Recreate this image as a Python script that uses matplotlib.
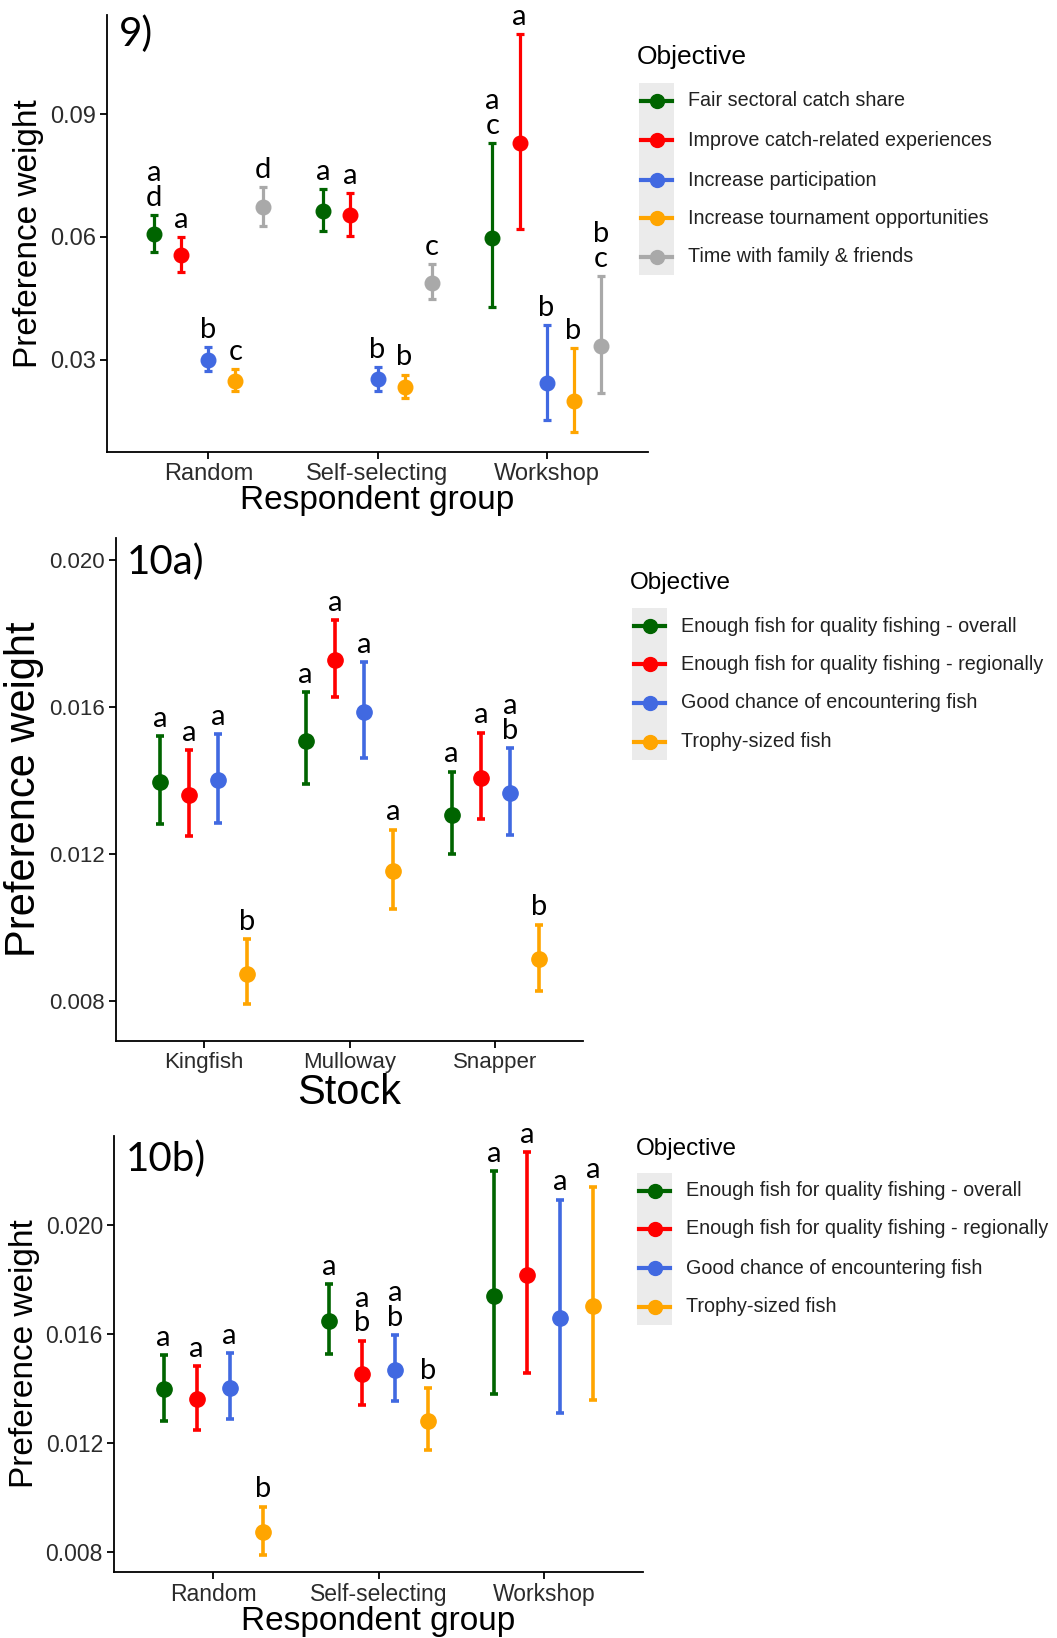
import numpy as np
import matplotlib
matplotlib.use("Agg")
import matplotlib.pyplot as plt
from matplotlib.patches import Rectangle
from matplotlib.lines import Line2D

# -----------------------------------
# DATA
# -----------------------------------

colors4 = ["#006400", "#FF0000", "#4169E1", "#FFA500"]
colors5 = colors4 + ["#A9A9A9"]

# Figure 9 : preference weight by respondent group
groups9 = ["Random", "Self-selecting", "Workshop"]
objectives9 = [
    "Fair sectoral catch share",
    "Improve catch-related experiences",
    "Increase participation",
    "Increase tournament opportunities",
    "Time with family & friends",
]
mean9 = [
    [0.0607, 0.0664, 0.0598],
    [0.0555, 0.0652, 0.0828],
    [0.0300, 0.0252, 0.0242],
    [0.0248, 0.0233, 0.0199],
    [0.0673, 0.0488, 0.0332],
]
low9 = [
    [0.0563, 0.0615, 0.0429],
    [0.0514, 0.0603, 0.0620],
    [0.0272, 0.0224, 0.0153],
    [0.0222, 0.0206, 0.0122],
    [0.0626, 0.0447, 0.0218],
]
high9 = [
    [0.0654, 0.0717, 0.0828],
    [0.0600, 0.0707, 0.1095],
    [0.0331, 0.0282, 0.0385],
    [0.0276, 0.0263, 0.0327],
    [0.0721, 0.0533, 0.0504],
]
letters9 = [
    ["a\nd", "a", "a\nc"],
    ["a", "a", "a"],
    ["b", "b", "b"],
    ["c", "b", "b"],
    ["d", "c", "b\nc"],
]

# Figure 10a : preference weight by stock
stocks10a = ["Kingfish", "Mulloway", "Snapper"]
objectives10 = [
    "Enough fish for quality fishing - overall",
    "Enough fish for quality fishing - regionally",
    "Good chance of encountering fish",
    "Trophy-sized fish",
]
mean10a = [
    [0.01395, 0.01507, 0.01306],
    [0.01361, 0.01728, 0.01405],
    [0.01402, 0.01587, 0.01365],
    [0.00873, 0.01153, 0.00912],
]
low10a = [
    [0.01280, 0.01389, 0.01200],
    [0.01248, 0.01627, 0.01295],
    [0.01285, 0.01462, 0.01252],
    [0.00790, 0.01050, 0.00826],
]
high10a = [
    [0.01520, 0.01640, 0.01424],
    [0.01483, 0.01836, 0.01530],
    [0.01527, 0.01723, 0.01488],
    [0.00967, 0.01266, 0.01007],
]
letters10a = [
    ["a", "a", "a"],
    ["a", "a", "a"],
    ["a", "a", "a\nb"],
    ["b", "a", "b"],
]

# Figure 10b : preference weight by respondent group
groups10b = ["Random", "Self-selecting", "Workshop"]
mean10b = [
    [0.01397, 0.01647, 0.01739],
    [0.01360, 0.01452, 0.01815],
    [0.01403, 0.01468, 0.01657],
    [0.00874, 0.01281, 0.01702],
]
low10b = [
    [0.01281, 0.01526, 0.01380],
    [0.01249, 0.01339, 0.01458],
    [0.01287, 0.01354, 0.01311],
    [0.00791, 0.01175, 0.01358],
]
high10b = [
    [0.01521, 0.01782, 0.02197],
    [0.01483, 0.01575, 0.02265],
    [0.01530, 0.01594, 0.02092],
    [0.00967, 0.01400, 0.02139],
]
letters10b = [
    ["a", "a", "a"],
    ["a", "a\nb", "a"],
    ["a", "a\nb", "a"],
    ["b", "b", "a"],
]

# -----------------------------------
# LAYOUT HELPERS (pixel coordinates)
# -----------------------------------

W, H = 1057, 1638
fig = plt.figure(figsize=(W / 100, H / 100), dpi=100)
fig.patch.set_facecolor("white")

SANS = ["Liberation Sans", "DejaVu Sans"]
LETTER = ["Lato", "DejaVu Sans"]


def box(left, top, right, bottom):
    return [left / W, 1 - bottom / H, (right - left) / W, (bottom - top) / H]


def panel(rect, cats, means, lows, highs, letters, colors, ylim, yticks,
          ytick_fmt, xlabel, tag, tag_y, tick_fs, title_fs, ms, lw):
    ax = fig.add_axes(rect)
    n = len(means)
    offsets = (np.arange(n) - (n - 1) / 2) * 0.8 / n
    xs = np.arange(1, len(cats) + 1)
    for i in range(n):
        m = np.array(means[i])
        lo = np.array(lows[i])
        hi = np.array(highs[i])
        ax.errorbar(xs + offsets[i], m, yerr=[m - lo, hi - m], fmt="o",
                    color=colors[i], ms=ms, elinewidth=lw, capsize=2.7,
                    capthick=lw, zorder=3)
        for j in range(len(cats)):
            ax.annotate(letters[i][j], (xs[j] + offsets[i], hi[j]),
                        xytext=(0, 3), textcoords="offset points",
                        ha="center", va="bottom", fontsize=21,
                        linespacing=0.95, family=LETTER, color="black")
    ax.set_xlim(0.4, len(cats) + 0.6)
    ax.set_ylim(*ylim)
    ax.set_xticks(xs)
    ax.set_xticklabels(cats, fontsize=tick_fs, family=SANS, color="#2b2b2b")
    ax.set_yticks(yticks)
    ax.set_yticklabels([ytick_fmt.format(v) for v in yticks],
                       fontsize=tick_fs, family=SANS, color="#2b2b2b")
    ax.set_xlabel(xlabel, fontsize=title_fs, family=SANS, labelpad=0)
    ax.set_ylabel("Preference weight", fontsize=title_fs, family=SANS,
                  labelpad=4)
    ax.spines["top"].set_visible(False)
    ax.spines["right"].set_visible(False)
    for s in ["left", "bottom"]:
        ax.spines[s].set_linewidth(1.3)
    ax.tick_params(length=5, width=1.3, pad=3)
    ax.text(0.022, tag_y, tag, transform=ax.transAxes, ha="left", va="top",
            fontsize=29, family=LETTER)
    return ax


def legend(title_xy, key_x, ys, labels, colors, title_fs, fs):
    fig.text(title_xy[0] / W, 1 - title_xy[1] / H, "Objective",
             fontsize=title_fs, family=SANS, ha="left", va="center")
    kw = 35
    top = ys[0] - 18
    bottom = ys[-1] + 18
    fig.add_artist(Rectangle((key_x / W, 1 - bottom / H), kw / W,
                             (bottom - top) / H, transform=fig.transFigure,
                             facecolor="#ebebeb", edgecolor="none"))
    for y, lab, c in zip(ys, labels, colors):
        fy = 1 - y / H
        fig.add_artist(Line2D([(key_x + 2) / W, (key_x + kw - 2) / W],
                              [fy, fy], transform=fig.transFigure,
                              color=c, lw=3))
        fig.add_artist(Line2D([(key_x + kw / 2) / W], [fy],
                              transform=fig.transFigure, color=c,
                              marker="o", ms=10, lw=0))
        fig.text((key_x + kw + 14) / W, fy, lab, fontsize=fs, family=SANS,
                 ha="left", va="center", color="#222222")


# -----------------------------------
# PANEL 9
# -----------------------------------

panel(box(107, 15, 648, 452), groups9, mean9, low9, high9, letters9,
      colors5, (0.0074, 0.1142), [0.03, 0.06, 0.09], "{:.2f}",
      "Respondent group", "9)", 1.0, 17, 24, 10.5, 2.3)
legend((637, 57), 639, [101, 140, 180, 218, 257], objectives9, colors5,
       19, 14.2)

# -----------------------------------
# PANEL 10a
# -----------------------------------

panel(box(116, 538, 583, 1041), stocks10a, mean10a, low10a, high10a,
      letters10a, colors4, (0.0069, 0.0206), [0.008, 0.012, 0.016, 0.020],
      "{:.3f}", "Stock", "10a)", 0.99, 16, 30, 11, 2.6)
legend((630, 583), 632, [626, 664, 703, 742], objectives10, colors4,
       17.5, 14.2)

# -----------------------------------
# PANEL 10b
# -----------------------------------

panel(box(114, 1136, 643, 1572), groups10b, mean10b, low10b, high10b,
      letters10b, colors4, (0.00727, 0.02325), [0.008, 0.012, 0.016, 0.020],
      "{:.3f}", "Respondent group", "10b)", 0.99, 16.5, 24, 11, 2.6)
legend((636, 1149), 637, [1191, 1229, 1268, 1307], objectives10, colors4,
       17.5, 14.2)

fig.savefig("out.png", dpi=100)
